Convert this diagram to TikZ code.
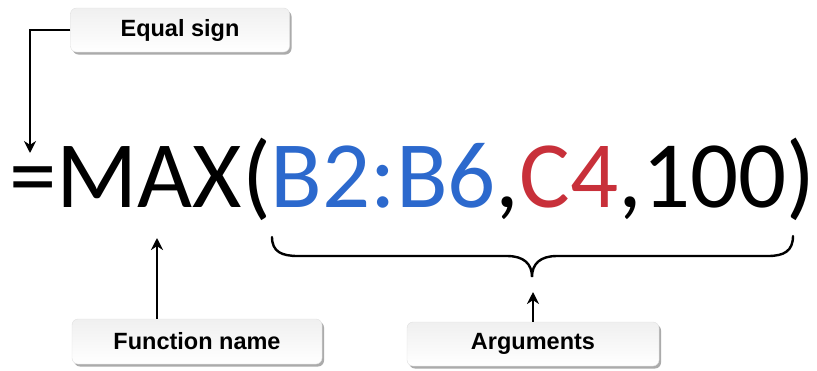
\documentclass[tikz,border=0pt]{standalone}
\usepackage{fontspec}
\setmainfont{Liberation Sans}
\newfontfamily\formulafont{Carlito}
\usepackage{xcolor}
\usetikzlibrary{positioning,arrows,arrows.meta,calc,shapes,shadows}
\definecolor{refblue}{RGB}{44,105,205}
\definecolor{refred}{RGB}{200,48,58}
\tikzset{
    callout/.style={
        rectangle,
        draw=gray!25,
        top color=gray!12,
        bottom color=white,
        rounded corners=6pt,
        align=center,
        font=\bfseries\fontsize{23.5}{25}\selectfont,
        drop shadow={shadow xshift=2pt, shadow yshift=-2.5pt, opacity=0.55, fill=black!60}
    },
    arrow/.style={
        -{Stealth[length=12pt, width=12pt]},
        line width=2.6pt
    },
    brace line/.style={
        line width=2.4pt,
        line cap=round
    }
}

\begin{document}
\begin{tikzpicture}[x=1pt, y=-1pt]
    \useasboundingbox (0,0) rectangle (817,370);
    % the formula
    \node[anchor=base west, inner sep=0pt, font=\formulafont\fontsize{95}{95}\selectfont] (formula) at (9,207)
        {=MAX(\textcolor{refblue}{B2:B6},\textcolor{refred}{C4},100)};
    % labels
    \node[callout, minimum width=219pt, minimum height=44pt] (equal) at (180,30) {Equal sign};
    \node[callout, minimum width=250pt, minimum height=45pt] (fname) at (197,341.5) {Function name};
    \node[callout, minimum width=252pt, minimum height=44pt] (args) at (533,344) {Arguments};
    % arrow ends
    \coordinate (eqtip) at (30,153);
    \coordinate (fntip) at (157,238);
    \coordinate (argtip) at (533,292);
    \draw[arrow] (equal.west) -| (eqtip);
    \draw[arrow] (fname.north -| fntip) -- (fntip);
    \draw[arrow] (args.north) -- (argtip);
    % brace under the arguments
    \coordinate (braceL) at (272,237);
    \coordinate (braceR) at (793,236);
    \coordinate (bracetip) at (532,277);
    \draw[brace line] (braceL) .. controls (272,252) and (282,256) .. (298,256)
        -- (507,256) .. controls (524,256) and (532,264) .. (bracetip)
        .. controls (532,264) and (540,256) .. (557,256)
        -- (768,256) .. controls (784,256) and (793,251) .. (braceR);
\end{tikzpicture}
\end{document}
